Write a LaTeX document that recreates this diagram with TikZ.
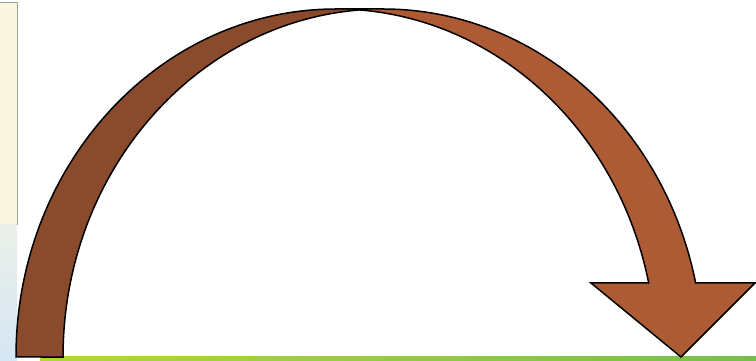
\documentclass[tikz,border=0pt]{standalone}
\definecolor{bandleft}{RGB}{138,74,44}
\definecolor{bandright}{RGB}{173,91,52}
\definecolor{creamstrip}{RGB}{250,246,224}
\definecolor{stripgrey}{RGB}{160,160,150}
\definecolor{bluetop}{RGB}{235,240,232}
\definecolor{bluebot}{RGB}{214,230,245}
\definecolor{greenA}{RGB}{180,214,60}
\definecolor{greenB}{RGB}{120,190,75}
\begin{document}
\begin{tikzpicture}[x=1pt,y=1pt,
  leftband/.style={fill=bandleft},
  rightband/.style={fill=bandright},
  outline/.style={draw=black,line width=1.5pt,line join=miter}]
\useasboundingbox (0,0) rectangle (756,361);
\fill[white] (0,0) rectangle (756,361);
% left background strip
\fill[creamstrip] (0,136) rectangle (17,358);
\shade[top color=bluetop,bottom color=bluebot] (0,0) rectangle (17,136);
\draw[stripgrey,line width=1pt] (0,358.5) -- (17.5,358.5) -- (17.5,136);
% bottom green strip
\shade[left color=greenA,right color=greenB] (40,0) rectangle (756,4);
% arrow
\def\arrowpath{(16,4) arc[start angle=180,end angle=90,x radius=320,y radius=348]
  -- (383,352) arc[start angle=90,end angle=12.28,x radius=320,y radius=348]
  -- (755,78) -- (681,4) -- (591,78) -- (648.7,78)
  arc[start angle=12.28,end angle=85.79,x radius=320,y radius=348]
  arc[start angle=94.21,end angle=180,x radius=320,y radius=348] -- cycle}
\fill[rightband] \arrowpath;
\fill[leftband] (16,4) arc[start angle=180,end angle=85.79,x radius=320,y radius=348]
  arc[start angle=94.21,end angle=180,x radius=320,y radius=348] -- cycle;
\draw[outline] \arrowpath;
\end{tikzpicture}
\end{document}
